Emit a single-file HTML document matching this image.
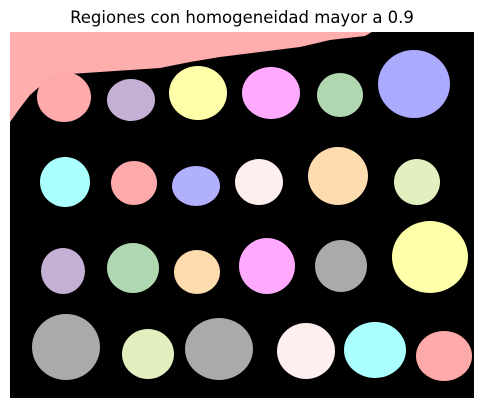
<!DOCTYPE html>
<html><head><meta charset="utf-8"><style>
html,body{margin:0;padding:0;background:#fff;width:484px;height:409px;overflow:hidden}
svg{display:block}
</style></head><body>
<svg id="chart" width="484" height="409" xmlns="http://www.w3.org/2000/svg">
<text x="242" y="23" text-anchor="middle" font-family="DejaVu Sans, Liberation Sans, sans-serif" font-size="16.5" fill="#000">Regiones con homogeneidad mayor a 0.9</text>
<rect x="10" y="32" width="464" height="366" fill="#000"/>
<polygon points="10,32 372,32 365,36 330,40 300,47 260,52 220,57 190,62 160,68 130,70 100,72 70,74 45,82 30,95 20,108 10,122" fill="#ffaeae"/>
<g id="blobs"></g>
</svg>
<script>
const cxs=[64,131,198,271,340,414, 65,134,196,259,338,417, 63,133,197,267,341,430, 66,148,219,306,375,444];
const cys=[97,100,93,93,95,84, 182,183,186,182,176,182, 271,268,272,266,266,257, 347,354,349,351,350,356];
const rxs=[27,24,29,29,23,36, 25,23,24,24,30,23, 22,26,23,28,26,38, 34,26,34,29,31,28];
const rys=[25,21,27,26,22,34, 25,22,20,23,29,23, 23,25,22,28,26,36, 33,25,31,28,28,25];
const colors=["#ffaaaa","#c5b0d5","#ffffaa","#ffaaff","#b0d8b0","#aaaaff",
"#aaffff","#ffaaaa","#b0b0ff","#ffeeee","#ffdbb0","#e2f0c0",
"#c5b0d5","#b0d8b0","#ffdbb0","#ffaaff","#aaaaaa","#ffffaa",
"#aaaaaa","#e2f0c0","#aaaaaa","#ffeeee","#aaffff","#ffaaaa"];
const g=document.getElementById('blobs');
const NS='http://www.w3.org/2000/svg';
for(let i=0;i<cxs.length;i++){
  const e=document.createElementNS(NS,'ellipse');
  e.setAttribute('cx',cxs[i]);e.setAttribute('cy',cys[i]);
  e.setAttribute('rx',rxs[i]);e.setAttribute('ry',rys[i]);
  e.setAttribute('fill',colors[i]);
  
  
  g.appendChild(e);
}
</script>
</body></html>
